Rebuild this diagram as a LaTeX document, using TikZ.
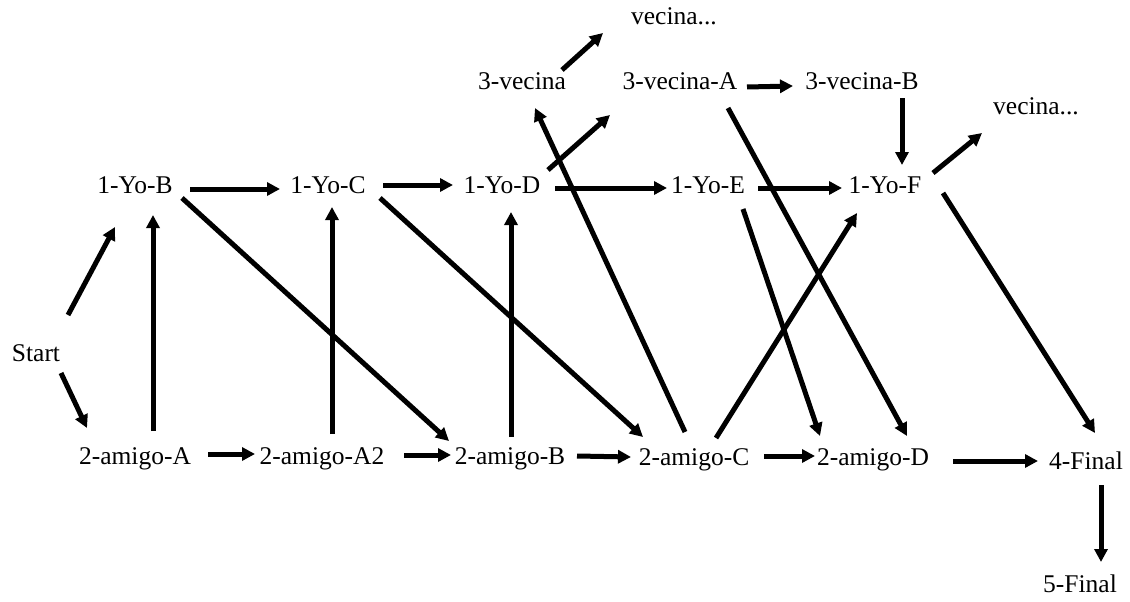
\documentclass[tikz,border=0pt]{standalone}
\usepackage{fontspec}
\setmainfont{Liberation Serif}
\usepackage{tikz}
\usetikzlibrary{arrows.meta,calc}

\begin{document}
\begin{tikzpicture}[
  x=1pt, y=-1pt,
  % ── node style ───────────────────────────────────────────
  lbl/.style={
    inner sep=0pt, text height=0.66em, text depth=0pt,
    font=\fontsize{25.5}{30}\selectfont
  },
  % ── link style ───────────────────────────────────────────
  arr/.style={line width=5pt, draw=black,
    -{Triangle[length=13pt,width=13pt]}},
]
\useasboundingbox (0,0) rectangle (1130,602);

%% ── START ────────────────────────────────────────────────────
\node[lbl] (ST) at (36,358) {Start};

%% ── 1-Yo ROW ─────────────────────────────────────────────────
\node[lbl] (YB) at (135,190) {1-Yo-B};
\node[lbl] (YC) at (328,190) {1-Yo-C};
\node[lbl] (YD) at (502,190) {1-Yo-D};
\node[lbl] (YE) at (708,190) {1-Yo-E};
\node[lbl] (YF) at (885,190) {1-Yo-F};

%% ── 3-vecina ROW ─────────────────────────────────────────────
\node[lbl] (V0) at (522,86)   {3-vecina};
\node[lbl] (VA) at (680,86)   {3-vecina-A};
\node[lbl] (VB) at (862,86)   {3-vecina-B};
\node[lbl] (VT) at (674,21)   {vecina...};
\node[lbl] (VR) at (1036,111) {vecina...};

%% ── 2-amigo ROW ──────────────────────────────────────────────
\node[lbl] (AA)  at (135,461) {2-amigo-A};
\node[lbl] (AA2) at (322,461) {2-amigo-A2};
\node[lbl] (AB)  at (510,461) {2-amigo-B};
\node[lbl] (AC)  at (694,462) {2-amigo-C};
\node[lbl] (AD)  at (873,462) {2-amigo-D};

%% ── FINAL ────────────────────────────────────────────────────
\node[lbl] (F4) at (1086,466) {4-Final};
\node[lbl] (F5) at (1080,589) {5-Final};

%% ── FROM START ───────────────────────────────────────────────
\draw[arr] ($(ST)+(32,-43)$) -- ($(YB)+(-20,37)$);
\draw[arr] ($(ST)+(25,15)$)  -- ($(AA)+(-48,-33)$);

%% ── 1-Yo CHAIN ───────────────────────────────────────────────
\draw[arr] ($(YB)+(55,-1)$) -- ($(YC)+(-48,-1)$);
\draw[arr] ($(YC)+(55,-5)$) -- ($(YD)+(-49,-5)$);
\draw[arr] ($(YD)+(53,-2)$) -- ($(YE)+(-41,-2)$);
\draw[arr] ($(YE)+(50,-2)$) -- ($(YF)+(-43,-2)$);

%% ── 2-amigo CHAIN ────────────────────────────────────────────
\draw[arr] ($(AA)+(73,-7)$)  -- ($(AA2)+(-67,-7)$);
\draw[arr] ($(AA2)+(82,-6)$) -- ($(AB)+(-59,-6)$);
\draw[arr] ($(AB)+(67,-5)$)  -- ($(AC)+(-63,-5)$);
\draw[arr] ($(AC)+(70,-6)$)  -- ($(AD)+(-58,-6)$);
\draw[arr] ($(AD)+(80,-1)$)  -- ($(F4)+(-48,-5)$);
\draw[arr] ($(F4)+(15,19)$)  -- ($(F5)+(21,-27)$);

%% ── 2-amigo UP TO 1-Yo ───────────────────────────────────────
\draw[arr] ($(AA)+(18,-30)$)  -- ($(YB)+(18,25)$);
\draw[arr] ($(AA2)+(10,-27)$) -- ($(YC)+(4,17)$);
\draw[arr] ($(AB)+(1,-24)$)   -- ($(YD)+(9,22)$);
\draw[arr] ($(AC)+(22,-24)$)  -- ($(YF)+(-28,23)$);
\draw[arr] ($(AC)+(-9,-30)$)  -- ($(V0)+(13,22)$);

%% ── 1-Yo DOWN TO 2-amigo ─────────────────────────────────────
\draw[arr] ($(YB)+(47,8)$)  -- ($(AB)+(-61,-20)$);
\draw[arr] ($(YC)+(52,8)$)  -- ($(AC)+(-51,-25)$);
\draw[arr] ($(YE)+(35,19)$) -- ($(AD)+(-53,-26)$);
\draw[arr] ($(YF)+(58,3)$)  -- ($(F4)+(9,-33)$);

%% ── vecina LINKS ─────────────────────────────────────────────
\draw[arr] ($(YD)+(46,-20)$) -- ($(VA)+(-70,29)$);
\draw[arr] ($(V0)+(40,-16)$) -- ($(VT)+(-71,12)$);
\draw[arr] ($(VA)+(67,1)$)   -- ($(VB)+(-69,0)$);
\draw[arr] ($(VA)+(48,22)$)  -- ($(AD)+(34,-26)$);
\draw[arr] ($(VB)+(40,12)$)  -- ($(YF)+(17,-25)$);
\draw[arr] ($(YF)+(48,-17)$) -- ($(VR)+(-54,22)$);

\end{tikzpicture}
\end{document}
